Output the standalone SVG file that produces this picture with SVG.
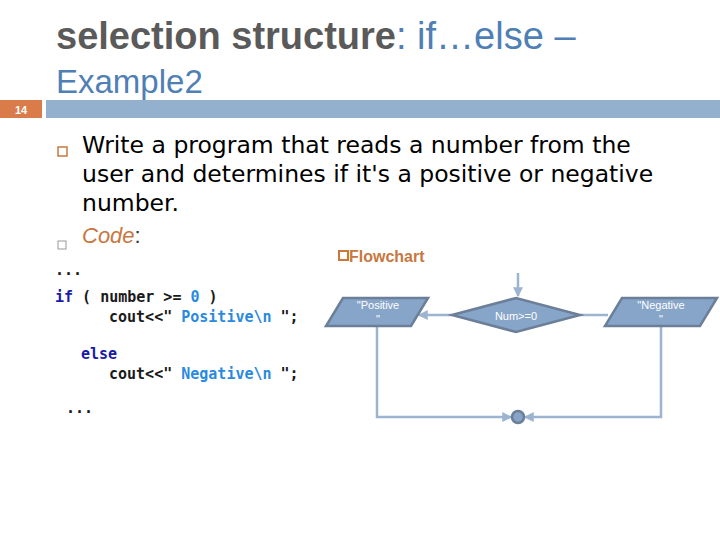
<svg xmlns="http://www.w3.org/2000/svg" width="720" height="540" viewBox="0 0 720 540">
<style>
.t{font-family:"Liberation Sans",Arial,sans-serif}
.d{font-family:"DejaVu Sans",sans-serif;font-size:23.5px;fill:#000}
.m{font-family:"DejaVu Sans Mono",monospace;font-size:15px;font-weight:bold}
.k{fill:#1a1aa6}.s{fill:#2a8adf}.n{fill:#1a1a1a}
.sh{fill:#87a5c8;stroke:#6b7f98;stroke-width:2.5}
.ln{fill:none;stroke:#9db4d0;stroke-width:2.5}
.w{font-family:"Liberation Sans",Arial,sans-serif;font-size:11px;fill:#fff;text-anchor:middle}
</style>
<defs><marker id="a" markerWidth="4" markerHeight="4" refX="3.5" refY="2" orient="auto"><path d="M0,0L4,2L0,4z" fill="#9db4d0"/></marker></defs>
<rect width="720" height="540" fill="#fff"/>
<g id="title">
<text x="56" y="49" class="t" font-size="38" fill="#5a5a5a"><tspan font-weight="bold">selection structure</tspan><tspan fill="#4f7fb5">: if…else –</tspan></text>
<text x="56" y="93" class="t" font-size="33" fill="#4f7fb5">Example2</text>
<rect x="0" y="100" width="42" height="18" fill="#d97c4a"/>
<text x="21" y="114" class="t" font-size="11" font-weight="bold" fill="#fff" text-anchor="middle">14</text>
<rect x="46" y="100" width="674" height="18" fill="#94b0cf"/>
</g>
<g id="text">
<rect x="58" y="147" width="9" height="9" fill="none" stroke="#c8783f" stroke-width="1.5"/>
<text x="82" y="153" class="d">Write a program that reads a number from the</text>
<text x="82" y="182" class="d">user and determines if it's a positive or negative</text>
<text x="82" y="211" class="d">number.</text>
<rect x="58" y="241" width="8" height="8" fill="none" stroke="#999" stroke-width="1"/>
<text x="82" y="243" class="t" font-size="22" font-style="italic" fill="#c8783f">Code<tspan fill="#333" font-style="normal">:</tspan></text>
<text x="55" y="275" class="m n" font-weight="normal">...</text>
<text x="55" y="302" class="m"><tspan class="k">if</tspan><tspan class="n"> ( number &gt;= </tspan><tspan class="s">0</tspan><tspan class="n"> )</tspan></text>
<text x="109" y="322" class="m"><tspan class="n">cout&lt;&lt;"</tspan><tspan class="s"> Positive\n </tspan><tspan class="n">";</tspan></text>
<text x="81" y="359" class="m k">else</text>
<text x="109" y="379" class="m"><tspan class="n">cout&lt;&lt;"</tspan><tspan class="s"> Negative\n </tspan><tspan class="n">";</tspan></text>
<text x="66" y="413" class="m n" font-weight="normal">...</text>
<rect x="339" y="251" width="9" height="9" fill="none" stroke="#c8783f" stroke-width="2"/>
<text x="349" y="262" class="t" font-size="16" font-weight="bold" fill="#c8783f">Flowchart</text>
</g>
<g id="connectors">
<line x1="518" y1="273" x2="518" y2="296" class="ln" marker-end="url(#a)"/>
<line x1="452" y1="315" x2="419" y2="315" class="ln" marker-end="url(#a)"/>
<line x1="580" y1="315" x2="608" y2="315" class="ln"/>
<polyline points="377,326 377,417 511,417" class="ln" marker-end="url(#a)"/>
<polyline points="661,326 661,417 525,417" class="ln" marker-end="url(#a)"/>
</g>
<g id="decision"><polygon points="452,315 516,298 580,315 516,332" class="sh"/><text x="516" y="320" class="w">Num&gt;=0</text></g>
<g id="positive"><polygon points="343,298 428,298 411,326 326,326" class="sh"/><text x="378" y="309" class="w">"Positive</text><text x="378" y="323" class="w">"</text></g>
<g id="negative"><polygon points="622,298 717,298 700,326 605,326" class="sh"/><text x="661" y="309" class="w">"Negative</text><text x="661" y="323" class="w">"</text></g>
<g id="join"><circle cx="518" cy="417" r="6" class="sh" stroke-width="2"/></g>
</svg>
